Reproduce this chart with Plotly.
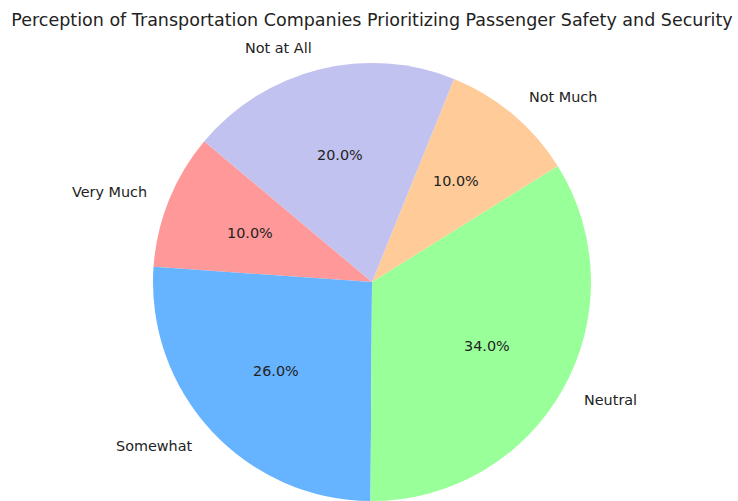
import math
import plotly.graph_objects as go

# Survey responses
categories = ["Very Much", "Somewhat", "Neutral", "Not Much", "Not at All"]
shares = [10, 26, 34, 10, 20]
colors = ["#ff9999", "#66b3ff", "#99ff99", "#ffcc99", "#c2c2f0"]
title_text = "Perception of Transportation Companies Prioritizing Passenger Safety and Security"

W, H = 738, 501
START_ANGLE = 140  # degrees, counterclockwise from 3 o'clock

# Pie geometry in pixels
cx, cy_top = 372, 282
radius = H - cy_top  # pie touches bottom edge
cy = H - cy_top      # from bottom

dom_x = [(cx - radius) / W, (cx + radius) / W]
dom_y = [0, 2 * radius / H]

total = sum(shares)

# Plotly's counterclockwise pie puts the first slice's far edge at `rotation`
# (clockwise degrees from 12 o'clock), so shift by the first slice's span.
rotation = 90 - START_ANGLE - 360 * shares[0] / total

fig = go.Figure()
fig.add_trace(go.Pie(
    labels=categories,
    values=shares,
    sort=False,
    direction="counterclockwise",
    rotation=rotation,
    marker=dict(colors=colors, line=dict(width=0)),
    textinfo="none",
    hoverinfo="label+percent",
    showlegend=False,
    domain=dict(x=dom_x, y=dom_y),
))

# Category labels outside the pie and percentages inside each wedge
cum = 0
annotations = []
font = dict(family="DejaVu Sans", size=14.4, color="#222222")
for name, v in zip(categories, shares):
    mid = math.radians(START_ANGLE + 360 * (cum + v / 2) / total)
    cum += v
    cs, sn = math.cos(mid), math.sin(mid)
    lx = cx + 1.1 * radius * cs
    ly = cy + 1.1 * radius * sn
    annotations.append(dict(
        x=lx / W, y=ly / H, xref="paper", yref="paper",
        text=name, showarrow=False,
        xanchor="left" if cs > 0 else "right", yanchor="middle",
        font=font,
    ))
    px = cx + 0.6 * radius * cs
    py = cy + 0.6 * radius * sn
    annotations.append(dict(
        x=px / W, y=py / H, xref="paper", yref="paper",
        text=f"{100 * v / total:.1f}%", showarrow=False,
        xanchor="center", yanchor="middle",
        font=font,
    ))

fig.update_layout(
    width=W, height=H,
    margin=dict(l=0, r=0, t=0, b=0),
    paper_bgcolor="white",
    plot_bgcolor="white",
    title=dict(
        text=title_text,
        x=cx / W, xanchor="center",
        y=1 - 20 / H, yanchor="middle", yref="container",
        font=dict(family="DejaVu Sans", size=17.5, color="#222222"),
    ),
    annotations=annotations,
)

fig.write_html("out.html")
